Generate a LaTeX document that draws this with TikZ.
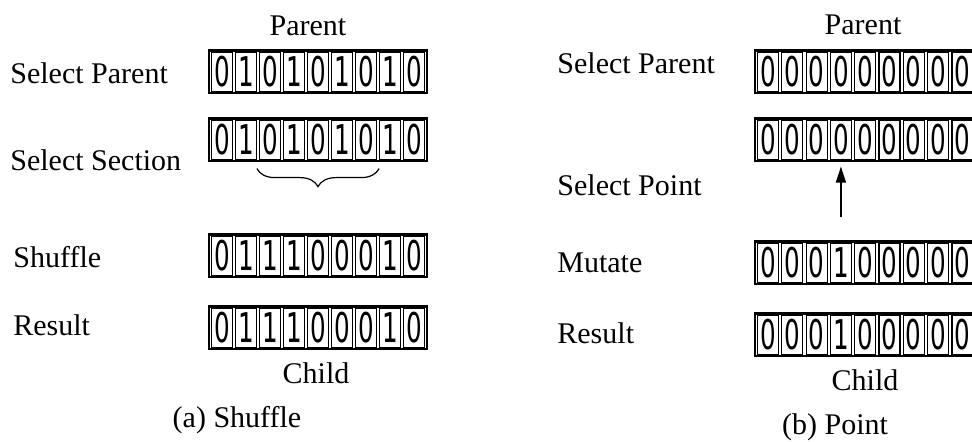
\documentclass[tikz,border=0pt]{standalone}
\usepackage{fontspec}
\setmainfont{Liberation Serif}
\newfontfamily\bitfont{DejaVu Sans}
\usetikzlibrary{arrows.meta,decorations.pathreplacing,calc,fit}
\newcommand{\bit}[1]{\scalebox{0.6}[1]{\bitfont\fontsize{20.5}{20.5}\selectfont #1}}

\begin{document}
\begin{tikzpicture}[x=0.5pt, y=-0.5pt,
  every node/.style={font=\fontsize{15}{18}\selectfont},
  lbl/.style={anchor=west, inner sep=0pt},
  cell/.style={draw, line width=0.6pt, minimum width=10.5pt, minimum height=20pt, inner sep=0pt},
  frame/.style={draw, line width=1.1pt, inner xsep=0.8pt, inner ysep=0.4pt}]
\clip (0,0) rectangle (972,442);

% =================== bit strings ===================
\foreach \r/\x/\p/\y/\bits in {
    L1/222/24/72/{0,1,0,1,0,1,0,1,0},
    L2/222/24/140/{0,1,0,1,0,1,0,1,0},
    L3/222/24/256/{0,1,1,1,0,0,0,1,0},
    L4/222/24/328/{0,1,1,1,0,0,0,1,0},
    R1/768/24.3/72/{0,0,0,0,0,0,0,0,0},
    R2/768/24.3/140/{0,0,0,0,0,0,0,0,0},
    R3/768/24.3/263/{0,0,0,1,0,0,0,0,0},
    R4/768/24.3/335/{0,0,0,1,0,0,0,0,0}}{
  \foreach \b [count=\i] in \bits{
    \node[cell] (\r c\i) at ({\x+\p*(\i-1)}, \y) {\bit{\b}};
  }
  \node[frame, fit=(\r c1)(\r c9)] (\r frame) {};
}

% =================== (a) shuffle ===================
\node (parentA) at (308,26) {Parent};
\node[lbl] (selparA) at (10,73) {Select Parent};
\node[lbl] (selsec) at (10,160) {Select Section};
\node[lbl] (shuf) at (13,257) {Shuffle};
\node[lbl] (resA) at (13,325) {Result};
\node (childA) at (316,373) {Child};
\node (capA) at (237,420) {(a) Shuffle};
% section brace under cells 3..7
\draw[line width=0.6pt, decorate, decoration={brace, mirror, amplitude=9pt}]
  ($(L2c3.south west)+(-2,8)$) -- ($(L2c7.south east)+(2,8)$);

% =================== (b) point ===================
\node (parentB) at (863,25) {Parent};
\node[lbl] (selparB) at (557,63) {Select Parent};
\node[lbl] (selpt) at (557,185) {Select Point};
\node[lbl] (mut) at (557,263) {Mutate};
\node[lbl] (resB) at (557,333) {Result};
\node (childB) at (865,380) {Child};
\node (capB) at (835,427) {(b) Point};
% pointer to the mutated bit
\coordinate (ptr) at ($(R2c4.south)+(0,56)$);
\draw[line width=0.7pt, -{Triangle[width=5pt, length=8pt]}] (ptr) -- ($(R2c4.south)+(0,6)$);

\end{tikzpicture}
\end{document}
